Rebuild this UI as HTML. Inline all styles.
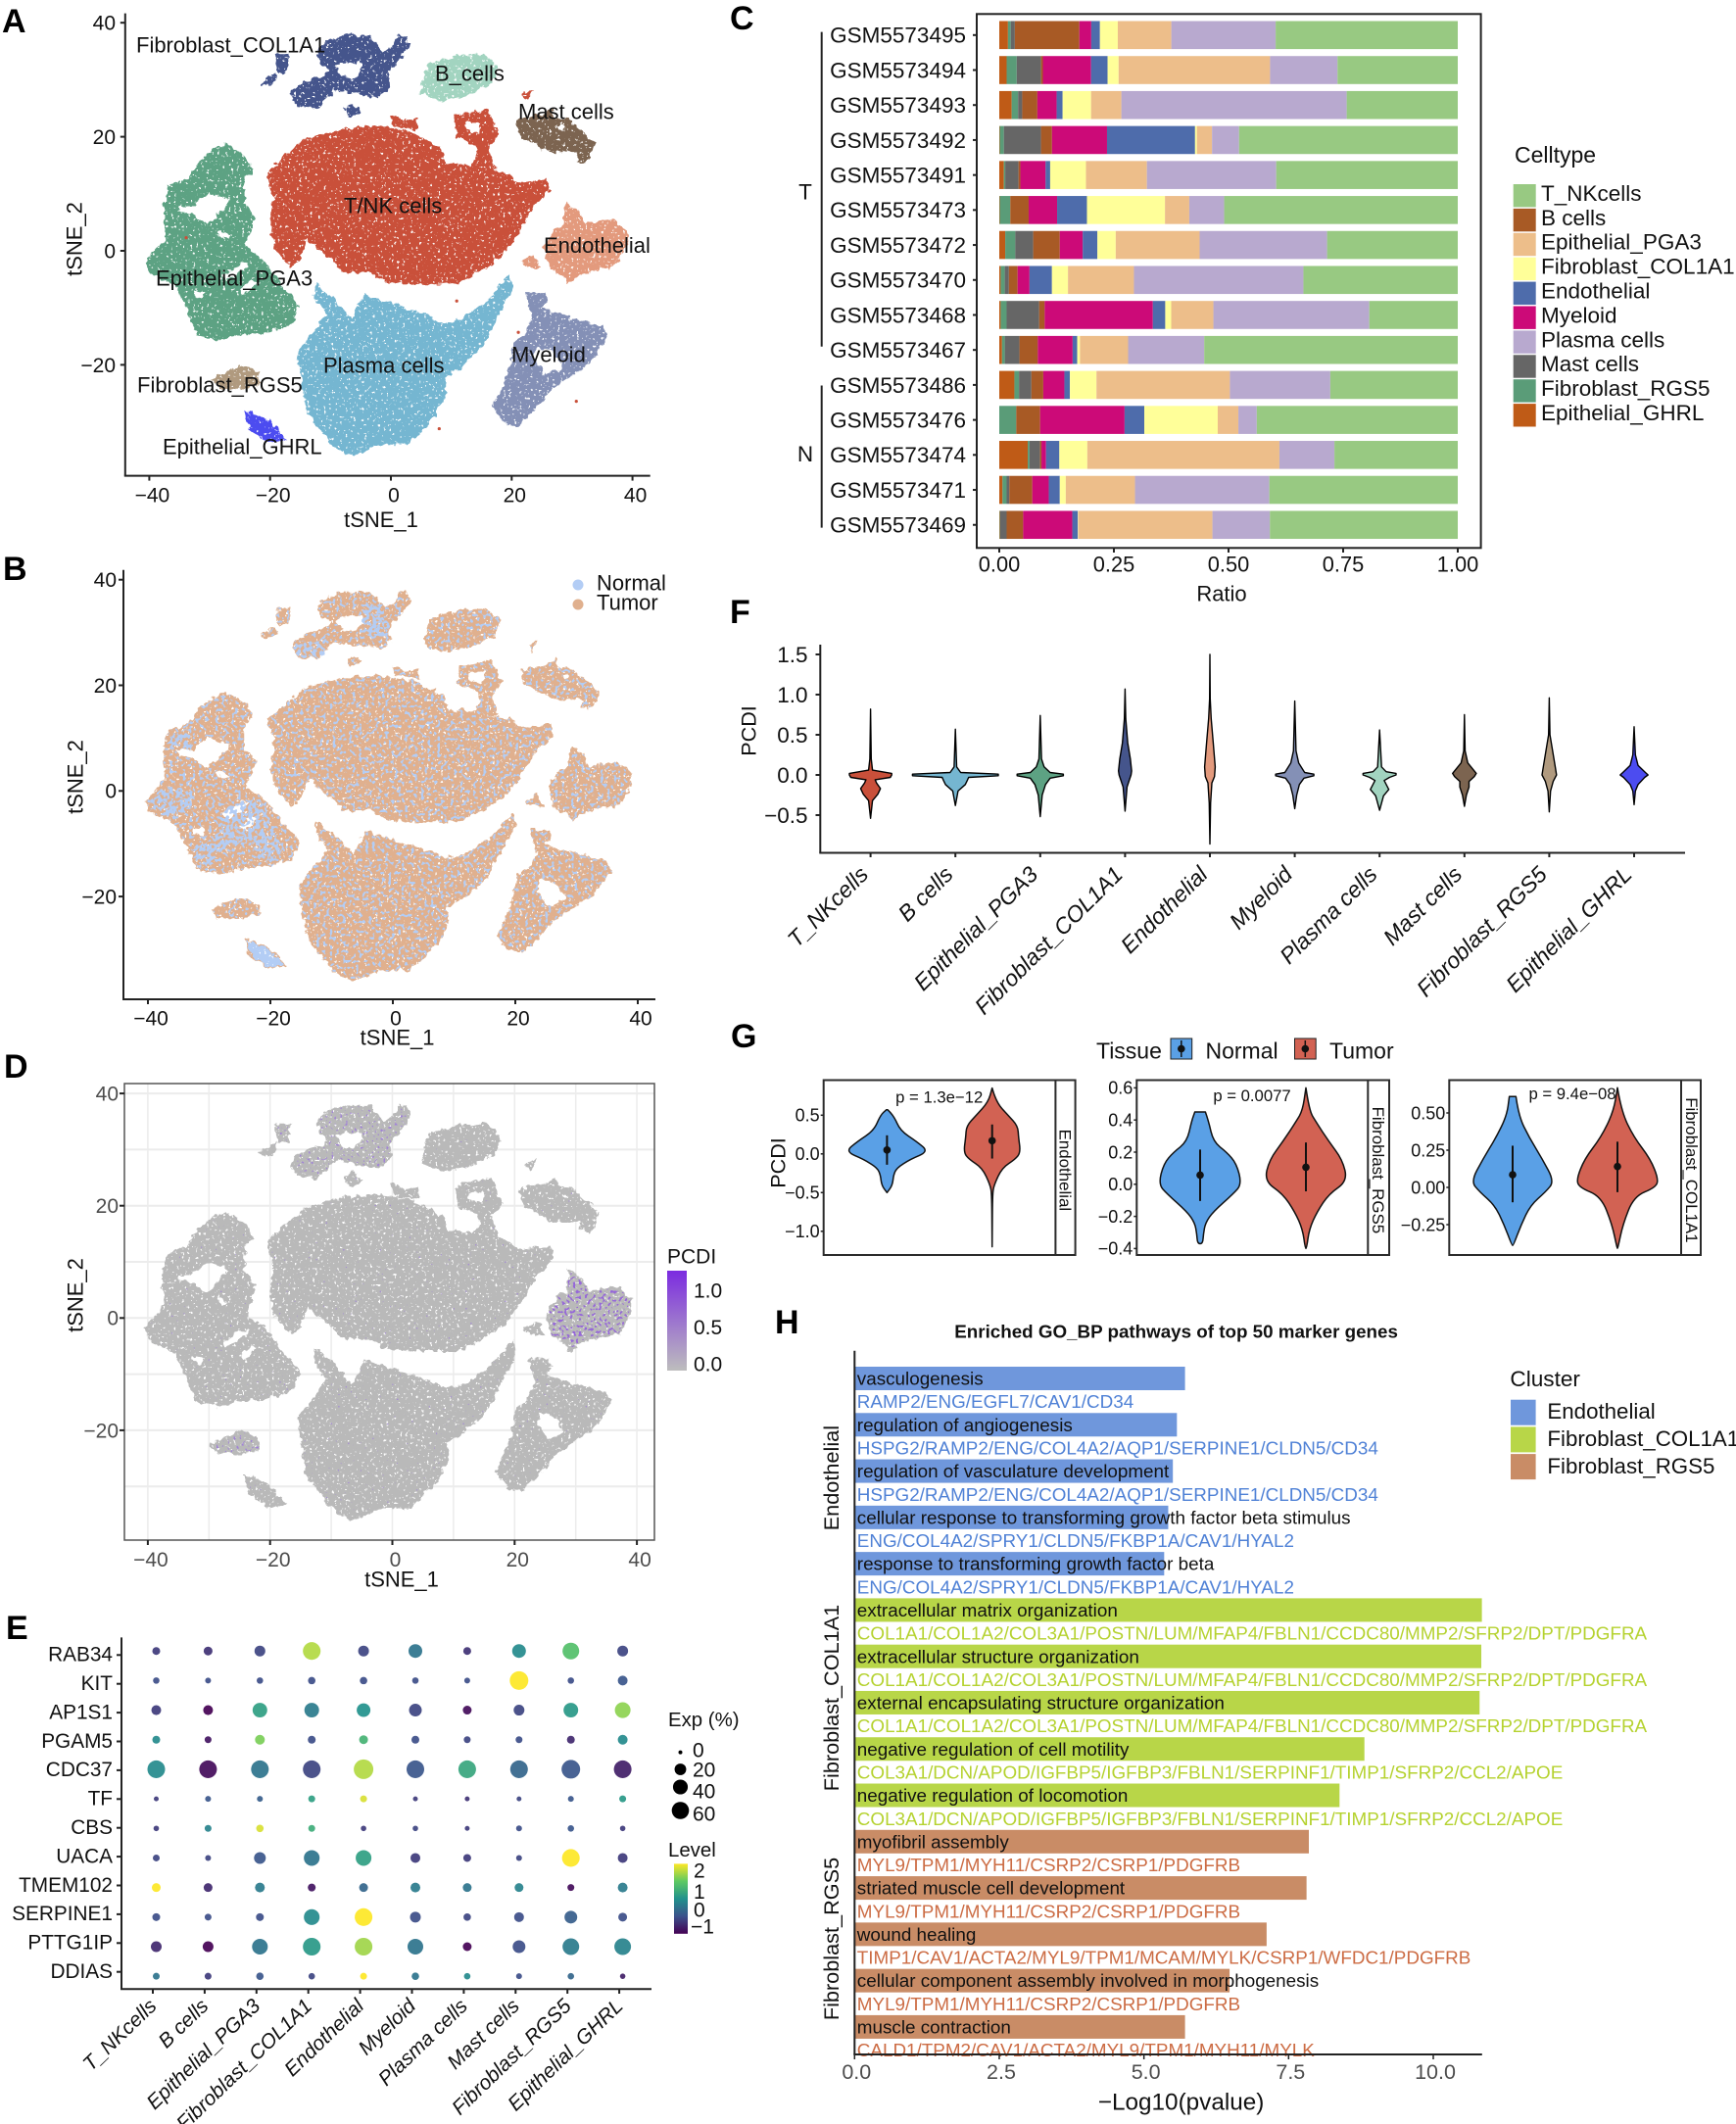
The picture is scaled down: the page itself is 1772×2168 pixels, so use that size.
<!DOCTYPE html>
<html lang="en"><head><meta charset="utf-8"><title>Single-cell PCDI figure</title>
<style>
html,body{margin:0;padding:0;background:#fff}
svg{display:block}
text{font-family:"Liberation Sans",Arial,sans-serif}
</style></head>
<body>
<svg id="fig" xmlns="http://www.w3.org/2000/svg" width="1772" height="2168" viewBox="0 0 1772 2168">
<defs>
<filter id="scatter-texture" x="-6%" y="-6%" width="112%" height="112%" color-interpolation-filters="sRGB">
<feTurbulence type="fractalNoise" baseFrequency="0.16" numOctaves="2" seed="4" result="warp"/>
<feDisplacementMap in="SourceGraphic" in2="warp" scale="8" xChannelSelector="R" yChannelSelector="G" result="rough"/>
<feTurbulence type="fractalNoise" baseFrequency="0.36" numOctaves="2" seed="9" result="grain"/>
<feColorMatrix in="grain" type="matrix" values="0 0 0 0 0 0 0 0 0 0 0 0 0 0 0 0 0 0 18 -12" result="holes"/>
<feComposite in="rough" in2="holes" operator="out"/>
</filter>
<filter id="speck-sparse" x="-6%" y="-6%" width="112%" height="112%" color-interpolation-filters="sRGB">
<feTurbulence type="fractalNoise" baseFrequency="0.16" numOctaves="2" seed="4" result="warp"/>
<feDisplacementMap in="SourceGraphic" in2="warp" scale="8" xChannelSelector="R" yChannelSelector="G" result="rough"/>
<feTurbulence type="fractalNoise" baseFrequency="0.3" numOctaves="1" seed="21" result="grain"/>
<feColorMatrix in="grain" type="matrix" values="0 0 0 0 0 0 0 0 0 0 0 0 0 0 0 0 0 0 18 -10.2" result="keep"/>
<feComposite in="rough" in2="keep" operator="in"/>
</filter>
<filter id="speck-dense" x="-6%" y="-6%" width="112%" height="112%" color-interpolation-filters="sRGB">
<feTurbulence type="fractalNoise" baseFrequency="0.16" numOctaves="2" seed="4" result="warp"/>
<feDisplacementMap in="SourceGraphic" in2="warp" scale="8" xChannelSelector="R" yChannelSelector="G" result="rough"/>
<feTurbulence type="fractalNoise" baseFrequency="0.26" numOctaves="1" seed="31" result="grain"/>
<feColorMatrix in="grain" type="matrix" values="0 0 0 0 0 0 0 0 0 0 0 0 0 0 0 0 0 0 16 -7.6" result="keep"/>
<feComposite in="rough" in2="keep" operator="in"/>
</filter>
<filter id="speck-mid" x="-6%" y="-6%" width="112%" height="112%" color-interpolation-filters="sRGB">
<feTurbulence type="fractalNoise" baseFrequency="0.16" numOctaves="2" seed="4" result="warp"/>
<feDisplacementMap in="SourceGraphic" in2="warp" scale="8" xChannelSelector="R" yChannelSelector="G" result="rough"/>
<feTurbulence type="fractalNoise" baseFrequency="0.34" numOctaves="1" seed="41" result="grain"/>
<feColorMatrix in="grain" type="matrix" values="0 0 0 0 0 0 0 0 0 0 0 0 0 0 0 0 0 0 18 -10.3" result="keep"/>
<feComposite in="rough" in2="keep" operator="in"/>
</filter>
<filter id="speck-rare" x="-6%" y="-6%" width="112%" height="112%" color-interpolation-filters="sRGB">
<feTurbulence type="fractalNoise" baseFrequency="0.16" numOctaves="2" seed="4" result="warp"/>
<feDisplacementMap in="SourceGraphic" in2="warp" scale="8" xChannelSelector="R" yChannelSelector="G" result="rough"/>
<feTurbulence type="fractalNoise" baseFrequency="0.34" numOctaves="1" seed="52" result="grain"/>
<feColorMatrix in="grain" type="matrix" values="0 0 0 0 0 0 0 0 0 0 0 0 0 0 0 0 0 0 18 -11.6" result="keep"/>
<feComposite in="rough" in2="keep" operator="in"/>
</filter>
<filter id="speck-trace" x="-6%" y="-6%" width="112%" height="112%" color-interpolation-filters="sRGB">
<feTurbulence type="fractalNoise" baseFrequency="0.16" numOctaves="2" seed="4" result="warp"/>
<feDisplacementMap in="SourceGraphic" in2="warp" scale="8" xChannelSelector="R" yChannelSelector="G" result="rough"/>
<feTurbulence type="fractalNoise" baseFrequency="0.4" numOctaves="1" seed="63" result="grain"/>
<feColorMatrix in="grain" type="matrix" values="0 0 0 0 0 0 0 0 0 0 0 0 0 0 0 0 0 0 20 -14.6" result="keep"/>
<feComposite in="rough" in2="keep" operator="in"/>
</filter>
<linearGradient id="pcdi-gradient" x1="0" y1="1" x2="0" y2="0">
<stop offset="0" stop-color="#bdbdbd"/><stop offset="1" stop-color="#7b2be0"/>
</linearGradient>
<linearGradient id="level-gradient" x1="0" y1="1" x2="0" y2="0">
<stop offset="0" stop-color="#440154"/><stop offset=".25" stop-color="#3b528b"/><stop offset=".5" stop-color="#21918c"/><stop offset=".75" stop-color="#5ec962"/><stop offset="1" stop-color="#fde725"/>
</linearGradient>
</defs>
<g font-weight="700" font-size="34" fill="#000">
<text x="2" y="33">A</text>
<text x="3" y="592">B</text>
<text x="745" y="30">C</text>
<text x="4" y="1100">D</text>
<text x="6" y="1673">E</text>
<text x="745" y="636">F</text>
<text x="746" y="1069">G</text>
<text x="791" y="1361">H</text>
</g>
<g id="panel-a"></g>
<g id="panel-b"></g>
<g id="panel-c"></g>
<g id="panel-d"></g>
<g id="panel-e"></g>
<g id="panel-f"></g>
<g id="panel-g"></g>
<g id="panel-h"></g>
</svg>
<script>
/* ---------- tSNE cluster outlines, in tSNE units ---------- */
const outlineTNK=[[-20.4,13.5],[-17.5,16.5],[-13.8,19.6],[-8,21.2],[-2.9,21.8],[2.9,20.9],[8,18.1],[9.1,15],[10.9,15.3],[14.5,14.4],[18.9,13.5],[21.1,11.9],[25.8,12.5],[26.2,10.7],[23.3,7.6],[21.1,3.3],[18.2,-1],[14.5,-3.5],[10.9,-5.7],[5.1,-5.7],[-.7,-5.4],[-3.6,-3.5],[-8,-3.5],[-9.5,-1.7],[-12.4,.8],[-13.8,2.7],[-15.3,-1.7],[-16.7,-2.6],[-18.9,.2],[-19.8,3.9],[-19.3,9.4]];
const outlineTNKUpper=[[10.9,23.6],[16,24.6],[17.8,20.6],[16,18.1],[17.1,14.4],[13.1,14.4],[14.5,16.7],[14.2,18.7],[10.9,20.2]];
const holeTNKUpper=[[12.4,22.7],[15.3,22.7],[14.9,20.2],[12.4,20.9]];
const outlineTNKStreak=[[0,23.6],[.8,23.4],[2,22.4],[4,23],[4.2,21.5],[.6,21.9]];
const outlineTNKSmall=[[22.1,27.4],[23.2,28],[22.6,26.5]];
const outlineCOL=[[-12.1,35],[-10.5,36.7],[-8.1,37.6],[-3.8,37.6],[-2,35.5],[-1.4,34.4],[.4,35.8],[1.25,37.6],[2.3,37.3],[2.85,36.1],[1,33.2],[-.6,31.5],[-.35,28.3],[-2.2,27.1],[-4.4,27.4],[-7.5,28],[-9.7,28.3],[-11,26.5],[-12.4,25.1],[-15.6,25.6],[-16.4,27.4],[-15.8,28.5],[-13.4,30],[-11,30.6],[-10,31.8],[-11.6,33.2]];
const outlineCOLSmallA=[[-19,34.4],[-16.9,34.4],[-17.2,31.8],[-18.5,31.2]];
const outlineCOLSmallB=[[-21.4,29.4],[-19.3,31],[-19,30],[-20.6,28.9]];
const outlineCOLSmallC=[[-7.5,25],[-6.5,25.6],[-5.2,24.5],[-6.8,23.6]];
const holeCOL=[[-9.2,32.6],[-8.1,33.2],[-4.7,33.2],[-4.7,31.8],[-6.3,30],[-8.4,30.3],[-9.2,31.5]];
const outlineB=[[6.2,32.6],[10.9,34.1],[15.3,34.4],[17.5,32.3],[16.7,29.5],[12.4,27.3],[8,26.4],[5.1,27.7],[5.5,30.1]];
const outlineMast=[[21,22.7],[23.2,23.3],[25.6,23.9],[26.6,24.8],[26.9,23.3],[29.3,23],[30.6,21.6],[33.6,18.7],[32.8,16.3],[32,15.5],[30.9,16],[31.2,17.5],[26.1,17.5],[24,18.7],[21.6,20.1]];
const holeMast=[[27.4,22.2],[29.3,21.9],[28.5,21],[27.7,21.3]];
const outlineEndo=[[29.1,8.2],[30.9,7],[32,4.5],[36.4,5.4],[38.9,3.3],[38.9,1.4],[37.1,-2.6],[33.5,-3.2],[30.5,-4.4],[29.1,-5.7],[28.7,-4.4],[26.2,-2.9],[25.5,.8],[27.3,3.9],[28.7,4.5]];
const outlineEndoSmall=[[21.8,-2],[23.6,-.9],[24.6,-2.9],[22.5,-2.6]];
const outlinePGA3=[[-29.5,17.5],[-27.3,18.6],[-24.4,16.9],[-22.9,14.1],[-24.4,13.1],[-24.4,8.2],[-22.5,5.7],[-23.3,3],[-24.4,.8],[-21.1,-1.7],[-18.2,-6],[-15.3,-9.7],[-16.7,-12.8],[-21.1,-14.3],[-25.5,-14.6],[-28.7,-15.6],[-32,-14.6],[-34.2,-9.1],[-35.6,-6],[-39.3,-4.1],[-40.4,-2],[-37.1,2],[-37.5,7],[-36.7,11.3],[-33.5,12.5],[-32,15]];
const holePGA3a=[[-35.3,7.9],[-32.9,7.9],[-30.3,10.2],[-26.3,8.8],[-28.7,5.9],[-30.3,4.1],[-32.9,6.2],[-35.1,6.7]];
const holePGA3b=[[-28.4,4.1],[-26.3,2.7],[-27.9,1.8],[-28.9,3.3]];
const holePGA3c=[[-28.1,-4.3],[-24.1,-1.7],[-23,-2.3],[-25.7,-4.6],[-27.3,-5.5]];
const holePGA3d=[[-25.2,-6.6],[-23,-4.6],[-22.2,-5.5],[-23.3,-7.2],[-24.6,-7.8]];
const holePGA3e=[[-32.9,-6.6],[-30.5,-6.9],[-31.1,-8.7],[-32.7,-8.1]];
const holePGA3f=[[-35.6,-4.3],[-33.7,-4.9],[-34.8,-5.2]];
const outlinePlasma=[[-12.4,-6],[-9.5,-8.5],[-6.5,-12.2],[-4.4,-7.8],[-.7,-9.1],[4.4,-10.9],[8.7,-12.8],[11.6,-12.2],[16,-9.1],[19.6,-4.4],[20,-6.6],[17.5,-11.5],[15.3,-16.5],[11.6,-20.2],[8.7,-22],[9.1,-25.1],[7.3,-28.8],[2.9,-33.8],[-2.2,-33.8],[-6.5,-35.9],[-9.5,-34.1],[-13.8,-28.2],[-14.5,-23.9],[-15.3,-17.7],[-12.4,-14],[-10.5,-10.9],[-12.7,-7.8]];
const outlineMyeloid=[[22.5,-7.5],[25.5,-7.5],[25.8,-8.8],[24.4,-10],[25.8,-10.6],[29.5,-11.9],[34.9,-13.5],[35.6,-15.2],[32.7,-19.6],[28.4,-22.7],[26.2,-24.5],[24,-27.6],[21.1,-30.4],[18.9,-30.1],[17.1,-27.3],[19.6,-21.4],[20.4,-16.2],[22.5,-14.6],[23.6,-11.5]];
const holeMyeloid=[[23.9,-16.5],[27,-17.5],[28.5,-20.5],[25.5,-22],[23.5,-19]];
const outlineRGS5=[[-29.5,-22.7],[-24.7,-20.2],[-22.2,-21.4],[-21.8,-23.3],[-25.5,-24.2],[-28.4,-23.9]];
const outlineGHRL=[[-24,-28.2],[-20.4,-29.8],[-17.5,-33.1],[-20.4,-33.5],[-23.3,-31.3]];
const normalZoneA=[[-26.2,-2.4],[-21.6,-1.7],[-20.1,-6.7],[-17.8,-11],[-20.1,-14.4],[-21.6,-12.9],[-23.9,-9.2],[-28.5,-11.6],[-30.8,-14.7],[-33,-11],[-28.5,-8.5],[-28.5,-5.4]];
const normalZoneB=[[-39.9,-1.7],[-36.1,.7],[-32.7,-.2],[-32.3,-3],[-36.1,-4.8],[-38.7,-3.6]];
const normalZoneC=[[-15.6,28],[-11,28.6],[-11,25.5],[-15.6,25.5]];
const normalZoneD=[[-4.9,35.4],[-1.9,35.4],[-.4,29.8],[-3.4,28.6],[-4.9,31]];
const normalZoneE=[[-36,10.6],[-33,11.9],[-33,7.5],[-36.4,8.2]];
const strayPoints=[[10.9,-8.8],[8,-31.2],[30.7,-26.4],[21.1,-14.3],[-33.9,2.3]];

/* ---------- panel C ---------- */
const sampleNames=['GSM5573495','GSM5573494','GSM5573493','GSM5573492','GSM5573491','GSM5573473','GSM5573472','GSM5573470','GSM5573468','GSM5573467','GSM5573486','GSM5573476','GSM5573474','GSM5573471','GSM5573469'];
const stackOrder=['Epithelial_GHRL','Fibroblast_RGS5','Mast cells','B cells','Myeloid','Endothelial','Fibroblast_COL1A1','Epithelial_PGA3','Plasma cells','T_NKcells'];
const ratioGSM5573495=[.019,.006,.009,.141,.026,.019,.039,.117,.228,.398];
const ratioGSM5573494=[.016,.022,.053,.004,.105,.036,.024,.330,.147,.262];
const ratioGSM5573493=[.027,.014,.009,.033,.042,.013,.062,.066,.491,.242];
const ratioGSM5573492=[.001,.009,.081,.024,.120,.192,.004,.033,.059,.477];
const ratioGSM5573491=[.010,.003,.029,.004,.055,.010,.078,.133,.282,.396];
const ratioGSM5573473=[.001,.023,0,.040,.062,.065,.170,.053,.076,.509];
const ratioGSM5573472=[.013,.022,.039,.058,.050,.032,.040,.183,.278,.285];
const ratioGSM5573470=[.003,.009,.009,.019,.026,.049,.035,.144,.370,.337];
const ratioGSM5573468=[.003,.013,.071,.012,.236,.027,.013,.092,.340,.193];
const ratioGSM5573467=[.006,.006,.032,.040,.076,.010,.006,.105,.166,.553];
const ratioGSM5573486=[.033,.010,.027,.026,.046,.012,.058,.291,.219,.278];
const ratioGSM5573476=[0,.037,0,.052,.184,.043,.160,.045,.040,.438];
const ratioGSM5573474=[.062,.004,.023,.003,.010,.029,.061,.419,.120,.269];
const ratioGSM5573471=[.007,.009,.006,.050,.036,.024,.013,.151,.293,.411];
const ratioGSM5573469=[.001,.001,.014,.036,.107,.012,.001,.292,.125,.409];
const ratioTicks=[0,.25,.5,.75,1];
const ratioTickLabels=['0.00','0.25','0.50','0.75','1.00'];
const legendCelltypes=['T_NKcells','B cells','Epithelial_PGA3','Fibroblast_COL1A1','Endothelial','Myeloid','Plasma cells','Mast cells','Fibroblast_RGS5','Epithelial_GHRL'];

/* ---------- panel E ---------- */
const dotGenes=['RAB34','KIT','AP1S1','PGAM5','CDC37','TF','CBS','UACA','TMEM102','SERPINE1','PTTG1IP','DDIAS'];
const dotCells=['T_NKcells','B cells','Epithelial_PGA3','Fibroblast_COL1A1','Endothelial','Myeloid','Plasma cells','Mast cells','Fibroblast_RGS5','Epithelial_GHRL'];
const expRAB34=[5.2,8.1,15.9,64,15.9,32.4,5.2,32.4,55,15.9];
const expKIT=[2.2,1.3,2.2,4.2,4.2,2.2,1.3,73,2.2,11.7];
const expAP1S1=[11.7,11.7,39,39,32.4,26.3,8.1,15.9,39,47];
const expPGAM5=[5.2,2.9,11.7,5.2,8.1,5.2,2.9,2.9,5.2,11.7];
const expCDC37=[64,64,64,64,83,64,64,64,73,64];
const expTF=[.3,1.3,1.3,2.9,2.9,.3,.3,.3,1.3,2.9];
const expCBS=[.8,2.9,4.2,2.9,.8,.8,.3,1.3,2.2,.8];
const expUACA=[2.9,1.3,20.8,47,47,11.7,5.2,1.3,64,11.7];
const expTMEM102=[8.1,8.1,11.7,5.2,8.1,11.7,8.1,8.1,2.9,11.7];
const expSERPINE1=[5.2,2.9,5.2,47,64,15.9,4.2,11.7,26.3,8.1];
const expPTTG1IP=[15.9,15.9,47,64,64,47,8.1,26.3,55,55];
const expDDIAS=[2.9,2.9,4.2,2.2,2.9,4.2,2.2,1.3,2.2,.8];
const levelRAB34=[-.6,-.7,-.5,1.8,-.5,.1,-.7,.4,1.2,-.5];
const levelKIT=[-.4,-.4,-.4,-.4,-.4,-.4,-.4,2.2,-.4,-.3];
const levelAP1S1=[-.6,-1.2,.7,.2,.5,-.5,-1.1,-.5,.6,1.6];
const levelPGAM5=[.4,-1,1.5,-.4,1,-.4,-.5,-.4,-.8,.4];
const levelCDC37=[.4,-1.1,.1,-.5,1.8,-.3,.8,-.1,-.3,-.9];
const levelTF=[-.6,-.3,-.2,.7,2,-.6,-.7,-.5,-.3,.6];
const levelCBS=[-.6,.3,2,.9,-.6,-.5,-.6,-.4,-.3,-.6];
const levelUACA=[-.5,-.5,-.3,.1,.7,-.6,-.6,-.5,2.2,-.6];
const levelTMEM102=[2.2,-.8,.2,-1,-.1,.2,.1,.3,-1.1,.2];
const levelSERPINE1=[-.4,-.4,-.4,.4,2.2,-.4,-.5,-.4,-.2,-.4];
const levelPTTG1IP=[-.8,-1.2,.1,.6,1.7,.1,-1.2,-.4,.2,.3];
const levelDDIAS=[.1,-.6,-.3,-.5,2.2,.1,.4,-.4,-.1,-.9];
const expLegendValues=[0,20,40,60];

/* ---------- panel F: [PCDI value, density] ---------- */
const violinCells=['T_NKcells','B cells','Epithelial_PGA3','Fibroblast_COL1A1','Endothelial','Myeloid','Plasma cells','Mast cells','Fibroblast_RGS5','Epithelial_GHRL'];
const densityTNK=[[.82,0],[.2,.1],[.06,.3],[.02,3.2],[0,3.2],[-.03,3],[-.06,.7],[-.1,.9],[-.17,1.5],[-.24,1.1],[-.32,.3],[-.54,0]];
const densityB=[[.57,0],[.1,.2],[.03,.8],[.01,6.5],[-.01,6.5],[-.03,2],[-.07,1.8],[-.12,1.5],[-.2,.4],[-.38,0]];
const densityPGA3=[[.74,0],[.2,.2],[.1,.6],[.03,1.5],[.01,3.5],[-.01,3.5],[-.04,1.5],[-.12,.8],[-.25,.3],[-.52,0]];
const densityCOL=[[1.07,0],[.7,.1],[.4,.4],[.2,.8],[.05,1],[0,.9],[-.05,.7],[-.15,.3],[-.45,0]];
const densityEndo=[[1.5,0],[.95,.05],[.7,.2],[.4,.5],[.1,.8],[-.02,.7],[-.1,.3],[-.35,.1],[-.86,0]];
const densityMyeloid=[[.92,0],[.3,.2],[.15,.6],[.03,1.5],[.01,2.9],[-.01,2.9],[-.04,1.4],[-.12,.7],[-.25,.3],[-.42,0]];
const densityPlasma=[[.56,0],[.1,.3],[.04,1],[.02,2.5],[0,2.5],[-.03,1.5],[-.07,.7],[-.18,1.4],[-.26,.6],[-.44,0]];
const densityMast=[[.75,0],[.3,.1],[.15,.5],[.05,1.5],[.02,1.8],[-.02,1.5],[-.08,.7],[-.15,.7],[-.25,.3],[-.39,0]];
const densityRGS5=[[.96,0],[.5,.1],[.3,.5],[.1,.9],[0,1.1],[-.08,.6],[-.2,.2],[-.46,0]];
const densityGHRL=[[.6,0],[.25,.2],[.12,.6],[.03,1.7],[0,2.1],[-.03,1.6],[-.12,.6],[-.2,.2],[-.37,0]];
const pcdiTicks=[-.5,0,.5,1,1.5];
const pcdiTickLabels=['\u22120.5','0.0','0.5','1.0','1.5'];

/* ---------- panel G ---------- */
const endoNormal=[[.57,.1],[.5,1],[.3,2],[.16,4.5],[.03,6.3],[-.07,3.5],[-.18,1.5],[-.27,1],[-.41,.8],[-.5,0]];
const endoTumor=[[.85,0],[.67,.6],[.5,2.4],[.36,3.9],[.21,4],[.02,4.3],[-.07,3.5],[-.18,1.5],[-.4,.3],[-.52,.05],[-1.2,0]];
const endoSummary=[[.05,.24,-.14],[.17,.38,-.06]];
const rgs5Normal=[[.45,.8],[.39,1.3],[.265,2],[.2,4],[.13,5.5],[0,6.3],[-.06,5],[-.17,2],[-.24,.8],[-.31,.5],[-.37,.4]];
const rgs5Tumor=[[.6,0],[.46,.5],[.39,1.5],[.265,3.5],[.155,5.5],[.02,6.3],[-.06,3.5],[-.17,1.7],[-.28,.5],[-.4,.1]];
const rgs5Summary=[[.057,.216,-.104],[.106,.26,-.044]];
const colNormal=[[.61,.5],[.48,.9],[.336,2.5],[.19,4.5],[.04,6.3],[-.03,5],[-.12,2.7],[-.25,1.3],[-.39,.1]];
const colTumor=[[.67,0],[.51,.6],[.336,2.5],[.19,5],[.056,6.2],[0,5.8],[-.06,2.5],[-.25,.8],[-.41,.05]];
const colSummary=[[.085,.28,-.1],[.14,.307,-.032]];
const endoTicks=[.5,0,-.5,-1];
const endoTickLabels=['0.5','0.0','\u22120.5','\u22121.0'];
const rgs5Ticks=[.6,.4,.2,0,-.2,-.4];
const rgs5TickLabels=['0.6','0.4','0.2','0.0','\u22120.2','\u22120.4'];
const colTicks=[.5,.25,0,-.25];
const colTickLabels=['0.50','0.25','0.00','\u22120.25'];

/* ---------- panel H ---------- */
const goTerms=['vasculogenesis','regulation of angiogenesis','regulation of vasculature development','cellular response to transforming growth factor beta stimulus','response to transforming growth factor beta','extracellular matrix organization','extracellular structure organization','external encapsulating structure organization','negative regulation of cell motility','negative regulation of locomotion','myofibril assembly','striated muscle cell development','wound healing','cellular component assembly involved in morphogenesis','muscle contraction'];
const goGenes=['RAMP2/ENG/EGFL7/CAV1/CD34','HSPG2/RAMP2/ENG/COL4A2/AQP1/SERPINE1/CLDN5/CD34','HSPG2/RAMP2/ENG/COL4A2/AQP1/SERPINE1/CLDN5/CD34','ENG/COL4A2/SPRY1/CLDN5/FKBP1A/CAV1/HYAL2','ENG/COL4A2/SPRY1/CLDN5/FKBP1A/CAV1/HYAL2','COL1A1/COL1A2/COL3A1/POSTN/LUM/MFAP4/FBLN1/CCDC80/MMP2/SFRP2/DPT/PDGFRA','COL1A1/COL1A2/COL3A1/POSTN/LUM/MFAP4/FBLN1/CCDC80/MMP2/SFRP2/DPT/PDGFRA','COL1A1/COL1A2/COL3A1/POSTN/LUM/MFAP4/FBLN1/CCDC80/MMP2/SFRP2/DPT/PDGFRA','COL3A1/DCN/APOD/IGFBP5/IGFBP3/FBLN1/SERPINF1/TIMP1/SFRP2/CCL2/APOE','COL3A1/DCN/APOD/IGFBP5/IGFBP3/FBLN1/SERPINF1/TIMP1/SFRP2/CCL2/APOE','MYL9/TPM1/MYH11/CSRP2/CSRP1/PDGFRB','MYL9/TPM1/MYH11/CSRP2/CSRP1/PDGFRB','TIMP1/CAV1/ACTA2/MYL9/TPM1/MCAM/MYLK/CSRP1/WFDC1/PDGFRB','MYL9/TPM1/MYH11/CSRP2/CSRP1/PDGFRB','CALD1/TPM2/CAV1/ACTA2/MYL9/TPM1/MYH11/MYLK'];
const goLogP=[5.71,5.57,5.5,5.42,5.35,10.84,10.83,10.8,8.81,8.38,7.85,7.81,7.12,6.48,5.71];
const goCluster=['Endothelial','Endothelial','Endothelial','Endothelial','Endothelial','Fibroblast_COL1A1','Fibroblast_COL1A1','Fibroblast_COL1A1','Fibroblast_COL1A1','Fibroblast_COL1A1','Fibroblast_RGS5','Fibroblast_RGS5','Fibroblast_RGS5','Fibroblast_RGS5','Fibroblast_RGS5'];
const goTicks=[0,2.5,5,7.5,10];
const goTickLabels=['0.0','2.5','5.0','7.5','10.0'];
const tsneXTicks=[-40,-20,0,20,40];
const tsneYTicks=[40,20,0,-20];
const tsneTickLabels={'-40':'\u221240','-20':'\u221220','0':'0','20':'20','40':'40'};

/* ---------- helpers ---------- */
const NS='http://www.w3.org/2000/svg';
function add(parent,tag,attrs){
  const e=document.createElementNS(NS,tag);
  for(const k in attrs)e.setAttribute(k,attrs[k]);
  parent.appendChild(e);
  return e;
}
function label(parent,str,x,y,o){
  o=o||{};
  const e=add(parent,'text',{x:x,y:y,'font-size':o.size||22,fill:o.fill||'#111','text-anchor':o.anchor||'start'});
  if(!o.rawBaseline)e.setAttribute('dy','.35em');
  if(o.rotate!==undefined)e.setAttribute('transform','rotate('+o.rotate+' '+x+' '+y+')');
  if(o.italic)e.setAttribute('font-style','italic');
  if(o.bold)e.setAttribute('font-weight','700');
  e.textContent=str;
  return e;
}
function line(parent,x1,y1,x2,y2,stroke,w){
  return add(parent,'line',{x1:x1,y1:y1,x2:x2,y2:y2,stroke:stroke||'#222','stroke-width':w||2});
}
function outlinePath(sx,sy,rings){
  return rings.map(function(r){return 'M'+r.map(function(p){return sx(p[0]).toFixed(1)+','+sy(p[1]).toFixed(1);}).join('L')+'Z';}).join('');
}
const clusterList=[
 {key:'t-nk-cells',color:'#c9503a',rings:[outlineTNK,outlineTNKUpper,holeTNKUpper,outlineTNKStreak,outlineTNKSmall]},
 {key:'epithelial-pga3',color:'#5da283',rings:[outlinePGA3,holePGA3a,holePGA3b,holePGA3c,holePGA3d,holePGA3e,holePGA3f]},
 {key:'fibroblast-col1a1',color:'#45558c',rings:[outlineCOL,holeCOL,outlineCOLSmallA,outlineCOLSmallB,outlineCOLSmallC]},
 {key:'b-cells',color:'#a2d4c0',rings:[outlineB]},
 {key:'mast-cells',color:'#7c6450',rings:[outlineMast,holeMast]},
 {key:'endothelial',color:'#e39a7d',rings:[outlineEndo,outlineEndoSmall]},
 {key:'plasma-cells',color:'#75b6d1',rings:[outlinePlasma]},
 {key:'myeloid',color:'#8490b6',rings:[outlineMyeloid,holeMyeloid]},
 {key:'fibroblast-rgs5',color:'#b09a7f',rings:[outlineRGS5]},
 {key:'epithelial-ghrl',color:'#4c4cf0',rings:[outlineGHRL]}
];
function tsneAxes(g,sx,sy,xAxisY,yAxisX,labelColor,xLabelY,yLabelRight){
  tsneXTicks.forEach(function(v){
    const t=line(g,sx(v),xAxisY,sx(v),xAxisY+5,'#222',2);
    
    
    const l=label(g,tsneTickLabels[v],sx(v)+3,xLabelY,{size:21,anchor:'middle',fill:labelColor});
    
    
  });
  tsneYTicks.forEach(function(v){
    const t=line(g,yAxisX-5,sy(v),yAxisX,sy(v),'#222',2);
    
    
    const l=label(g,tsneTickLabels[v],yLabelRight,sy(v),{size:21,anchor:'end',fill:labelColor});
    
    
  });
}

/* ---------- Panel A ---------- */
(function(){
  const g=document.getElementById('panel-a');
  const sx=function(v){return 399+v*6.165;}, sy=function(v){return 256-v*5.82;};
  clusterList.forEach(function(c){
    const p=add(g,'path',{d:outlinePath(sx,sy,c.rings),fill:c.color,'fill-rule':'evenodd',stroke:c.color,'stroke-width':2,filter:'url(#scatter-texture)'});
    
    
  });
  strayPoints.forEach(function(pt){
    const s=add(g,'circle',{cx:sx(pt[0]),cy:sy(pt[1]),r:1.6,fill:'#c9503a'});
    
    
  });
  const ax=line(g,127.8,13.6,127.8,485.6);
  
  
  const ay=line(g,126.8,485.6,663.7,485.6);
  
  
  tsneAxes(g,sx,sy,485.6,127.8,'#111',505,118);
  const xt=label(g,'tSNE_1',389,530.5,{size:22,anchor:'middle'});
  
  
  const yt=label(g,'tSNE_2',76,244,{size:22,anchor:'middle',rotate:-90});
  
  
  const names=['Fibroblast_COL1A1','B_cells','Mast cells','T/NK cells','Endothelial','Epithelial_PGA3','Plasma cells','Myeloid','Fibroblast_RGS5','Epithelial_GHRL'];
  const lx=[139,444,529,351,555,159,330,522,140,166];
  const ly=[46,75,114,210,250.5,283.6,372.6,362,393,456];
  names.forEach(function(n,i){
    const t=label(g,n,lx[i],ly[i],{size:22,fill:'#111'});
    
    
  });
})();

/* ---------- Panel B ---------- */
(function(){
  const g=document.getElementById('panel-b');
  const sx=function(v){return 401+v*6.25;}, sy=function(v){return 807.3-v*5.39;};
  const tumor='#e0b08e', normal='#b3cdf5';
  const all=[];
  clusterList.forEach(function(c){
    const p=add(g,'path',{d:outlinePath(sx,sy,c.rings),fill:c.key==='epithelial-ghrl'?normal:tumor,'fill-rule':'evenodd',stroke:tumor,'stroke-width':1.5,filter:'url(#scatter-texture)'});
    
    
    all.push(outlinePath(sx,sy,c.rings));
  });
  const sp=add(g,'path',{d:all.join(''),fill:normal,'fill-rule':'evenodd',filter:'url(#speck-sparse)'});
  
  
  const z=add(g,'path',{d:outlinePath(sx,sy,[normalZoneA,normalZoneB,normalZoneC,normalZoneD,normalZoneE]),fill:normal,filter:'url(#speck-dense)'});
  
  
  const ax=line(g,126,581.7,126,1020);
  
  
  const ay=line(g,125,1020,669,1020);
  
  
  tsneAxes(g,sx,sy,1020,126,'#111',1039,119);
  const xt=label(g,'tSNE_1',405.6,1059,{size:22,anchor:'middle'});
  
  
  const yt=label(g,'tSNE_2',77,793,{size:22,anchor:'middle',rotate:-90});
  
  
  const tissues=['Normal','Tumor'];
  const tissueColors=[normal,tumor];
  tissues.forEach(function(n,i){
    const d=add(g,'circle',{cx:590,cy:597+20*i,r:5.5,fill:tissueColors[i]});
    
    
    const t=label(g,n,609,595+20*i,{size:22});
    
    
  });
})();

/* ---------- Panel D ---------- */
(function(){
  const g=document.getElementById('panel-d');
  const sx=function(v){return 400.5+v*6.24;}, sy=function(v){return 1345.3-v*5.73;};
  const gridX=[-40,-30,-20,-10,0,10,20,30,40], gridY=[-30,-20,-10,0,10,20,30,40];
  gridX.forEach(function(v){
    const l=line(g,sx(v),1106,sx(v),1572,'#ececec',1.5);
    
    
  });
  gridY.forEach(function(v){
    const l=line(g,127,sy(v),668,sy(v),'#ececec',2);
    
    
  });
  const everyCell=[];
  clusterList.forEach(function(c){
    const p=add(g,'path',{d:outlinePath(sx,sy,c.rings),fill:'#b9b9b9','fill-rule':'evenodd',stroke:'#b9b9b9','stroke-width':3,filter:'url(#scatter-texture)'});
    
    
    everyCell.push(outlinePath(sx,sy,c.rings));
  });
  const tr=add(g,'path',{d:everyCell.join(''),fill:'#a68fd2','fill-rule':'evenodd',filter:'url(#speck-trace)'});
  
  
  const hi=add(g,'path',{d:outlinePath(sx,sy,[outlineEndo]),fill:'#9668d8',filter:'url(#speck-mid)'});
  
  
  const mid=add(g,'path',{d:outlinePath(sx,sy,[outlineCOL,holeCOL,outlineCOLSmallA,outlineRGS5]),fill:'#a184d6','fill-rule':'evenodd',filter:'url(#speck-rare)'});
  
  
  const frame=add(g,'rect',{x:127,y:1106,width:541,height:466,fill:'none',stroke:'#555','stroke-width':1.5});
  
  
  tsneAxes(g,sx,sy,1572,127,'#4d4d4d',1591.5,121);
  const xt=label(g,'tSNE_1',410,1612,{size:22,anchor:'middle'});
  
  
  const yt=label(g,'tSNE_2',77,1322,{size:22,anchor:'middle',rotate:-90});
  
  
  const tl=label(g,'PCDI',681,1282,{size:21});
  
  
  const cb=add(g,'rect',{x:681,y:1297,width:20,height:102,fill:'url(#pcdi-gradient)'});
  
  
  const barLabels=['1.0','0.5','0.0'];
  const barLabelY=[1317,1354.6,1392];
  barLabels.forEach(function(s,i){
    const t=label(g,s,708,barLabelY[i],{size:21});
    
    
  });
})();

/* ---------- Panel C ---------- */
(function(){
  const g=document.getElementById('panel-c');
  const stackRows=[ratioGSM5573495,ratioGSM5573494,ratioGSM5573493,ratioGSM5573492,ratioGSM5573491,ratioGSM5573473,ratioGSM5573472,ratioGSM5573470,ratioGSM5573468,ratioGSM5573467,ratioGSM5573486,ratioGSM5573476,ratioGSM5573474,ratioGSM5573471,ratioGSM5573469];
  const colors={'T_NKcells':'#98c982','B cells':'#a85a25','Epithelial_PGA3':'#edbe8a','Fibroblast_COL1A1':'#ffff99','Endothelial':'#4e6cab','Myeloid':'#cc0a78','Plasma cells':'#b8a9cf','Mast cells':'#666666','Fibroblast_RGS5':'#5a9c78','Epithelial_GHRL':'#bf5b17'};
  const sx=function(v){return 1020+v*468;}, sy=function(i){return 35.8+i*35.71;};
  sampleNames.forEach(function(name,i){
    let cum=0;
    const total=stackRows[i].reduce(function(a,b){return a+b;},0);
    stackRows[i].forEach(function(v,j){
      const w=v/total;
      const r=add(g,'rect',{x:sx(cum),y:sy(i)-14.3,width:Math.max(0,sx(cum+w)-sx(cum)),height:28.6,fill:colors[stackOrder[j]]});
      
      
      cum+=w;
    });
    const t=line(g,993,sy(i),997,sy(i),'#222',2);
    
    
    const l=label(g,name,986,sy(i),{size:22.5,anchor:'end'});
    
    
  });
  const frame=add(g,'rect',{x:997,y:14.3,width:514.6,height:545,fill:'none',stroke:'#222','stroke-width':2});
  
  
  ratioTicks.forEach(function(v,i){
    const t=line(g,sx(v),559,sx(v),564,'#222',2);
    
    
    const l=label(g,ratioTickLabels[i],sx(v),576,{size:21.8,anchor:'middle'});
    
    
  });
  const xt=label(g,'Ratio',1247,606,{size:22,anchor:'middle'});
  
  
  const gt=line(g,838.7,32.6,838.7,353.7,'#222',2);
  
  
  const gn=line(g,838.7,393.5,838.7,538.6,'#222',2);
  
  
  const lt=label(g,'T',822,195.5,{size:22.5,anchor:'middle'});
  
  
  const ln=label(g,'N',822,463,{size:22.5,anchor:'middle'});
  
  
  const lg=label(g,'Celltype',1546,157.8,{size:23});
  
  
  legendCelltypes.forEach(function(n,i){
    const r=add(g,'rect',{x:1544.7,y:188+24.9*i,width:23,height:23.4,fill:colors[n]});
    
    
    const t=label(g,n,1573,197+24.9*i,{size:22.5});
    
    
  });
})();

/* ---------- Panel E ---------- */
(function(){
  const g=document.getElementById('panel-e');
  const expRows=[expRAB34,expKIT,expAP1S1,expPGAM5,expCDC37,expTF,expCBS,expUACA,expTMEM102,expSERPINE1,expPTTG1IP,expDDIAS];
  const levelRows=[levelRAB34,levelKIT,levelAP1S1,levelPGAM5,levelCDC37,levelTF,levelCBS,levelUACA,levelTMEM102,levelSERPINE1,levelPTTG1IP,levelDDIAS];
  const stops=[[68,1,84],[59,82,139],[33,145,140],[94,201,98],[253,231,37]];
  function viridis(L){
    const t=Math.max(0,Math.min(1,(L+1.2)/3.4))*4, i=Math.min(3,Math.floor(t)), f=t-i;
    const c=stops[i].map(function(a,k){return Math.round(a+(stops[i+1][k]-a)*f);});
    return 'rgb('+c.join(',')+')';
  }
  function radius(p){return 2+6.8*Math.sqrt(p/60);}
  const sx=function(i){return 159.5+52.9*i;}, sy=function(i){return 1685.2+30.18*i;};
  const tickX=function(i){return 156+52.9*i;}, tickY=function(i){return 1689.3+29.4*i;};
  dotGenes.forEach(function(gene,r){
    dotCells.forEach(function(cell,c){
      const d=add(g,'circle',{cx:sx(c),cy:sy(r),r:radius(expRows[r][c]),fill:viridis(levelRows[r][c]),'fill-opacity':.92});
      
      
    });
    const t=line(g,119,tickY(r),124,tickY(r),'#222',2);
    
    
    const l=label(g,gene,115,tickY(r)-1,{size:20.8,anchor:'end'});
    
    
  });
  dotCells.forEach(function(cell,c){
    const t=line(g,tickX(c),2030,tickX(c),2035,'#222',2);
    
    
    const l=label(g,cell,tickX(c)+5,2049,{size:20.8,anchor:'end',italic:true,rotate:-44,rawBaseline:true});
    
    
  });
  const ax=line(g,124,1671.4,124,2030.3);
  
  
  const ay=line(g,123,2030.3,665,2030.3);
  
  
  const et=label(g,'Exp (%)',682,1755,{size:20.4});
  
  
  const legY=[1788.6,1806,1824,1848];
  const legLabelY=[1786,1806,1828,1851];
  expLegendValues.forEach(function(v,i){
    const d=add(g,'circle',{cx:694.5,cy:legY[i],r:radius(v),fill:'#000'});
    
    
    const t=label(g,String(v),707,legLabelY[i],{size:21});
    
    
  });
  const lt=label(g,'Level',682,1888,{size:20.4});
  
  
  const cb=add(g,'rect',{x:688,y:1902.4,width:14,height:71.4,fill:'url(#level-gradient)'});
  
  
  const levelLabels=['2','1','0','\u22121'];
  const levelLabelY=[1909,1930.7,1949,1966];
  const levelLabelX=[708,708,708,705];
  levelLabels.forEach(function(s,i){
    const t=label(g,s,levelLabelX[i],levelLabelY[i],{size:21});
    
    
  });
})();

/* ---------- Violin helper ---------- */
function violinPath(profile,cx,sy,sw,smooth){
  const right=profile.map(function(p){return [cx+sw(p[1]),sy(p[0])];});
  const left=profile.slice().reverse().map(function(p){return [cx-sw(p[1]),sy(p[0])];});
  const pts=right.concat(left);
  if(!smooth)return 'M'+pts.map(function(p){return p[0].toFixed(1)+','+p[1].toFixed(1);}).join('L')+'Z';
  let d='M'+cx.toFixed(1)+','+sy(profile[0][0]).toFixed(1);
  d+='L'+pts[0][0].toFixed(1)+','+pts[0][1].toFixed(1);
  for(let i=1;i<pts.length-1;i++){
    const mx=(pts[i][0]+pts[i+1][0])/2,my=(pts[i][1]+pts[i+1][1])/2;
    d+='Q'+pts[i][0].toFixed(1)+','+pts[i][1].toFixed(1)+' '+mx.toFixed(1)+','+my.toFixed(1);
  }
  d+='L'+pts[pts.length-1][0].toFixed(1)+','+pts[pts.length-1][1].toFixed(1)+'Z';
  return d;
}

/* ---------- Panel F ---------- */
(function(){
  const g=document.getElementById('panel-f');
  const profiles=[densityTNK,densityB,densityPGA3,densityCOL,densityEndo,densityMyeloid,densityPlasma,densityMast,densityRGS5,densityGHRL];
  const colors=['#c9503a','#75b6d1','#5da283','#45558c','#e39a7d','#8490b6','#a2d4c0','#7c6450','#b09a7f','#4c4cf0'];
  const sx=function(i){return 888.6+86.6*i;}, sy=function(v){return 791-v*82;}, sw=function(d){return d*6.74;};
  violinCells.forEach(function(cell,i){
    const v=add(g,'path',{d:violinPath(profiles[i],sx(i),sy,sw,false),fill:colors[i],stroke:'#000','stroke-width':1.4,'stroke-linejoin':'round'});
    
    
    const t=line(g,sx(i),870.5,sx(i),875,'#222',2);
    
    
    const l=label(g,cell,sx(i)-1,894,{size:23,anchor:'end',italic:true,rotate:-45,rawBaseline:true});
    
    
  });
  pcdiTicks.forEach(function(v,i){
    const t=line(g,832.5,sy(v),837.3,sy(v),'#222',2);
    
    
    const l=label(g,pcdiTickLabels[i],824.5,sy(v),{size:22.5,anchor:'end'});
    
    
  });
  const ax=line(g,837.3,658,837.3,870.5);
  
  
  const ay=line(g,836.3,870.5,1720,870.5);
  
  
  const yt=label(g,'PCDI',764,746,{size:21.6,anchor:'middle',rotate:-90});
  
  
})();

/* ---------- Panel G ---------- */
(function(){
  const g=document.getElementById('panel-g');
  const blue='#5aa0e6', red='#d26253';
  const facets=[
   {strip:'Endothelial',x0:840.7,x1:1097.6,div:1077.4,stripX:1087.5,zero:1177.8,unit:79,cx:[905.4,1012.7],prof:[endoNormal,endoTumor],sum:endoSummary,ticks:endoTicks,labels:endoTickLabels,p:'p = 1.3e\u221212',px:958.7,py:1119.5},
   {strip:'Fibroblast_RGS5',x0:1160.3,x1:1418,div:1396.3,stripX:1407,zero:1208.8,unit:164,cx:[1225,1333],prof:[rgs5Normal,rgs5Tumor],sum:rgs5Summary,ticks:rgs5Ticks,labels:rgs5TickLabels,p:'p = 0.0077',px:1278,py:1118},
   {strip:'Fibroblast_COL1A1',x0:1479.3,x1:1736,div:1716,stripX:1726.7,zero:1212,unit:152,cx:[1544,1651],prof:[colNormal,colTumor],sum:colSummary,ticks:colTicks,labels:colTickLabels,p:'p = 9.4e\u221208',px:1605,py:1116}
  ];
  facets.forEach(function(f){
    const sy=function(v){return f.zero-v*f.unit;}, sw=function(d){return d*6.74;};
    const fills=[blue,red];
    f.prof.forEach(function(pr,i){
      const v=add(g,'path',{d:violinPath(pr,f.cx[i],sy,sw,true),fill:fills[i],stroke:'#111','stroke-width':1.5,'stroke-linejoin':'round'});
      
      
      const s=line(g,f.cx[i],sy(f.sum[i][1]),f.cx[i],sy(f.sum[i][2]),'#111',2);
      
      
      const m=add(g,'circle',{cx:f.cx[i],cy:sy(f.sum[i][0]),r:3.8,fill:'#111'});
      
      
    });
    const fr=add(g,'rect',{x:f.x0,y:1102.5,width:f.x1-f.x0,height:178.5,fill:'none',stroke:'#2b2b2b','stroke-width':2});
    
    
    const dv=line(g,f.div,1102.5,f.div,1281,'#2b2b2b',2);
    
    
    const st=label(g,f.strip,f.stripX,1194.4,{size:16.9,anchor:'middle',rotate:90});
    
    
    const pv=label(g,f.p,f.px,f.py,{size:16.7,anchor:'middle'});
    
    
    f.ticks.forEach(function(v,i){
      const t=line(g,f.x0-3,sy(v),f.x0,sy(v),'#222',1.5);
      
      
      const l=label(g,f.labels[i],f.x0-4,sy(v),{size:18,anchor:'end'});
      
      
    });
  });
  const yt=label(g,'PCDI',794,1187,{size:21.6,anchor:'middle',rotate:-90});
  
  
  const tt=label(g,'Tissue',1119,1072.4,{size:23});
  
  
  const keyNames=['Normal','Tumor'];
  const keyX=[1195,1321.5];
  const keyColor=[blue,red];
  const keyLabelX=[1230.5,1357];
  keyNames.forEach(function(n,i){
    const r=add(g,'rect',{x:keyX[i],y:1060,width:21.7,height:21,fill:keyColor[i],stroke:'#222','stroke-width':1});
    
    
    const s=line(g,keyX[i]+10.8,1062,keyX[i]+10.8,1079,'#111',1.5);
    
    
    const d=add(g,'circle',{cx:keyX[i]+10.8,cy:1070.5,r:3.8,fill:'#111'});
    
    
    const t=label(g,n,keyLabelX[i],1072.4,{size:23});
    
    
  });
})();

/* ---------- Panel H ---------- */
(function(){
  const g=document.getElementById('panel-h');
  const barColor={'Endothelial':'#6f97dc','Fibroblast_COL1A1':'#b8d648','Fibroblast_RGS5':'#c98c66'};
  const geneColor={'Endothelial':'#4f81d6','Fibroblast_COL1A1':'#b5d22f','Fibroblast_RGS5':'#cc6c44'};
  const sx=function(v){return 872.3+v*59.07;}, rowY=function(i){return 1407+i*23.64;};
  goTerms.forEach(function(term,i){
    const c=goCluster[i];
    const r=add(g,'rect',{x:sx(0),y:rowY(2*i)-12,width:sx(goLogP[i])-sx(0),height:24,fill:barColor[c]});
    
    
    const t=label(g,term,874.8,rowY(2*i),{size:18.85,fill:'#111'});
    
    
    const s=label(g,goGenes[i],874.8,rowY(2*i+1),{size:18.85,fill:geneColor[c]});
    
    
  });
  const ax=line(g,872.3,1378.7,872.3,2097);
  
  
  const ay=line(g,871.3,2097,1512.8,2097);
  
  
  goTicks.forEach(function(v,i){
    const t=line(g,sx(v),2097,sx(v),2102,'#222',1.5);
    
    
    const l=label(g,goTickLabels[i],sx(v)+2,2114.6,{size:21.5,anchor:'middle',fill:'#4d4d4d'});
    
    
  });
  const ti=label(g,'Enriched GO_BP pathways of top 50 marker genes',1200.6,1359,{size:18.8,anchor:'middle',bold:true});
  
  
  const xt=label(g,'\u2212Log10(pvalue)',1205.6,2145,{size:24.3,anchor:'middle'});
  
  
  const facetNames=['Endothelial','Fibroblast_COL1A1','Fibroblast_RGS5'];
  const facetY=[1508.6,1733,1979];
  facetNames.forEach(function(n,i){
    const t=label(g,n,848.6,facetY[i],{size:21.7,anchor:'middle',rotate:-90});
    
    
  });
  const lt=label(g,'Cluster',1541.4,1407,{size:22.6});
  
  
  facetNames.forEach(function(n,i){
    const r=add(g,'rect',{x:1542,y:1428.7+27.7*i,width:25.6,height:26,fill:barColor[n]});
    
    
    const t=label(g,n,1579.4,1440+28*i,{size:22.3});
    
    
  });
})();
</script>
</body></html>
